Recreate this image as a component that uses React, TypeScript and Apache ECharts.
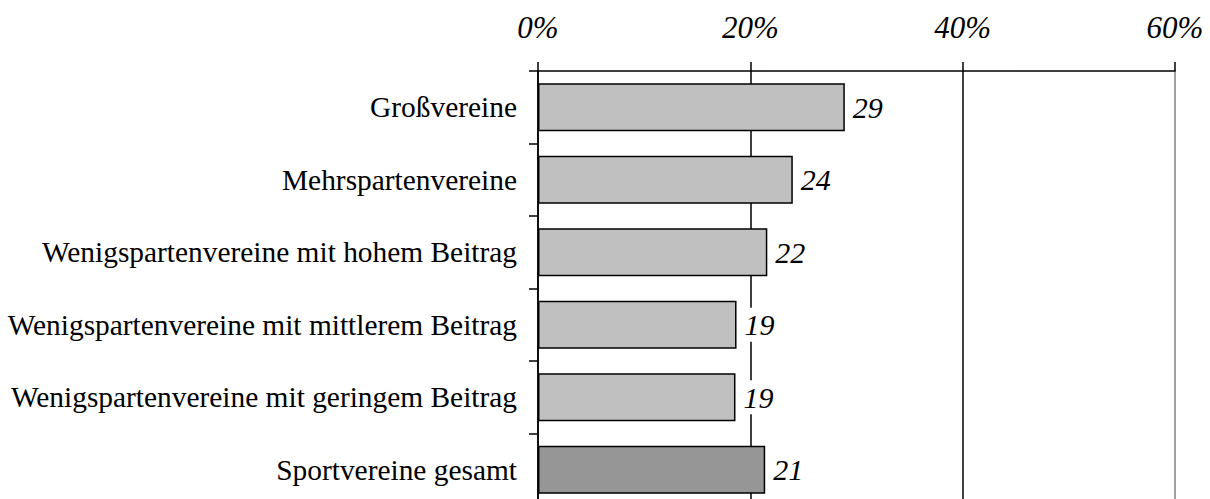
import React, { useEffect, useRef } from "react";
import * as echarts from "echarts";

const categories = [
  "Großvereine",
  "Mehrspartenvereine",
  "Wenigspartenvereine mit hohem Beitrag",
  "Wenigspartenvereine mit mittlerem Beitrag",
  "Wenigspartenvereine mit geringem Beitrag",
  "Sportvereine gesamt",
];
const values = [28.9, 24.0, 21.6, 18.7, 18.6, 21.4];
const barColors = ["#c0c0c0", "#c0c0c0", "#c0c0c0", "#c0c0c0", "#c0c0c0", "#969696"];
const xTicks = [0, 20, 40, 60];

const FONT = '"Liberation Serif", "Times New Roman", serif';

export default function App() {
  const ref = useRef<HTMLDivElement>(null);
  useEffect(() => {
    if (!ref.current) return;
    const chart = echarts.init(ref.current, undefined, { renderer: "svg" });
    chart.setOption({
      animation: false,
      backgroundColor: "#ffffff",
      grid: { left: 538, top: 71, width: 637, height: 435 },
      xAxis: {
        type: "value",
        position: "top",
        min: xTicks[0],
        max: xTicks[xTicks.length - 1],
        interval: 20,
        axisLine: { show: true, lineStyle: { color: "#000", width: 1.5 } },
        axisTick: { show: true, length: 9, lineStyle: { color: "#000", width: 1.5 } },
        axisLabel: {
          formatter: "{value}%",
          fontFamily: FONT,
          fontStyle: "italic",
          fontSize: 31,
          color: "#000",
          margin: 28,
        },
        splitLine: {
          show: true,
          lineStyle: { color: ["#000", "#000", "#000", "#808080"], width: 1.5 },
        },
      },
      yAxis: {
        type: "category",
        data: categories,
        inverse: true,
        axisLine: { show: true, lineStyle: { color: "#000", width: 1.5 } },
        axisTick: { show: true, length: 9, lineStyle: { color: "#000", width: 1.5 } },
        axisLabel: {
          fontFamily: FONT,
          fontSize: 29.4,
          color: "#000",
          margin: 21,
        },
        splitLine: { show: false },
      },
      series: [
        {
          type: "bar",
          barWidth: 48,
          data: values.map((v, i) => ({
            value: v,
            itemStyle: { color: barColors[i], borderColor: "#000", borderWidth: 1.5 },
          })),
          label: {
            show: true,
            position: "right",
            distance: 5,
            formatter: (p: any) => String(Math.round(p.value)),
            fontFamily: FONT,
            fontStyle: "italic",
            fontSize: 30,
            color: "#000",
            backgroundColor: "#fff",
            padding: [2, 3, 2, 3],
          },
        },
      ],
    });
    return () => chart.dispose();
  }, []);
  return (
    <div style={{ position: "fixed", left: 0, top: 0, width: 1210, height: 499, overflow: "hidden", background: "#fff" }}>
      <div ref={ref} style={{ width: 1210, height: 520 }} />
    </div>
  );
}
